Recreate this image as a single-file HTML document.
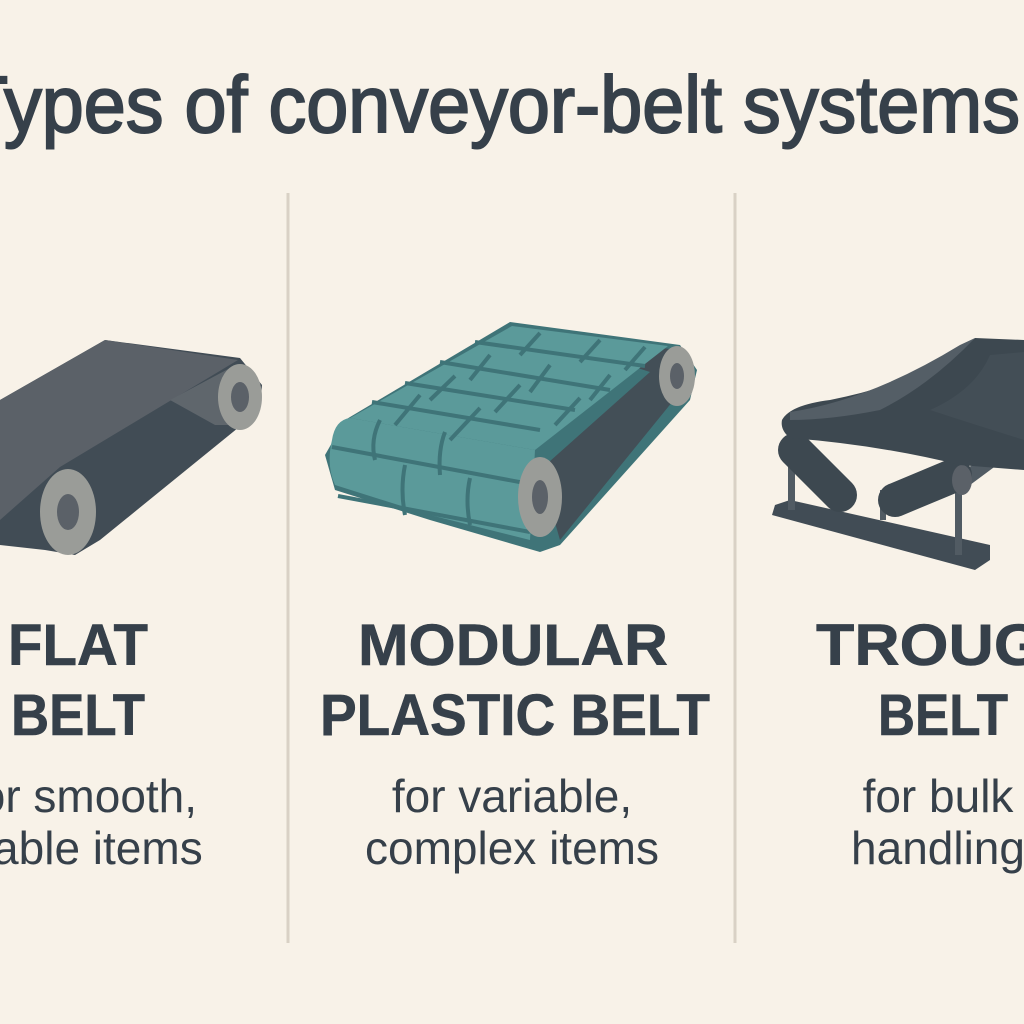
<!DOCTYPE html>
<html><head><meta charset="utf-8"><style>
html,body{margin:0;padding:0;background:#f8f2e8;}
svg{display:block}
text{font-family:"Liberation Sans",sans-serif;fill:#36404a}
</style></head><body>
<svg width="1024" height="1024" viewBox="0 0 1024 1024" xmlns="http://www.w3.org/2000/svg">
<rect width="1024" height="1024" fill="#f8f2e8"/>
<text x="-38" y="132" font-size="80" textLength="1058" lengthAdjust="spacingAndGlyphs" stroke="#36404a" stroke-width="2">Types of conveyor-belt systems</text>
<line x1="288" y1="193" x2="288" y2="943" stroke="#d9d1c5" stroke-width="3"/>
<line x1="735" y1="193" x2="735" y2="943" stroke="#d9d1c5" stroke-width="3"/>

<!-- flat belt -->
<polygon points="0,400 105,340 240,358 262,385 260,410 100,540 75,555 45,550 0,545" fill="#414c55"/>
<polygon points="0,400 105,340 238,360 60,467 0,520" fill="#5b6168"/>
<polygon points="170,400 230,368 240,425 215,425" fill="#5f666c"/>
<ellipse cx="240" cy="397" rx="22" ry="33" fill="#9a9c98"/>
<ellipse cx="240" cy="397" rx="9" ry="15" fill="#5b6168"/>
<ellipse cx="68" cy="512" rx="28" ry="43" fill="#9a9c98"/>
<ellipse cx="68" cy="512" rx="11" ry="18" fill="#5b6168"/>

<!-- modular belt -->
<polygon points="345,420 510,322 680,345 697,370 690,400 560,545 540,552 430,520 335,490 325,455" fill="#3f7478"/>
<polygon points="520,330 678,350 690,380 560,540 540,470 650,372" fill="#434f57"/>
<polygon points="350,418 512,326 668,346 535,450" fill="#5b9a9a"/>
<path d="M332,440 Q335,420 350,418 L535,450 L530,540 L430,515 L335,485 Q326,465 332,440Z" fill="#5b9a9a"/>
<g stroke="#3f7478" stroke-width="4" fill="none">
<line x1="372" y1="402" x2="540" y2="430"/>
<line x1="405" y1="383" x2="575" y2="410"/>
<line x1="440" y1="362" x2="610" y2="390"/>
<line x1="475" y1="342" x2="645" y2="366"/>
<line x1="332" y1="447" x2="530" y2="484"/>
<line x1="338" y1="496" x2="530" y2="532"/>
<line x1="420" y1="395" x2="395" y2="425"/>
<line x1="480" y1="408" x2="450" y2="440"/>
<line x1="455" y1="376" x2="430" y2="400"/>
<line x1="520" y1="385" x2="495" y2="412"/>
<line x1="580" y1="398" x2="555" y2="425"/>
<line x1="490" y1="355" x2="470" y2="380"/>
<line x1="550" y1="365" x2="530" y2="392"/>
<line x1="610" y1="375" x2="590" y2="400"/>
<line x1="540" y1="333" x2="520" y2="355"/>
<line x1="600" y1="340" x2="580" y2="362"/>
<line x1="645" y1="347" x2="625" y2="370"/>
<path d="M380,420 Q370,440 375,460"/>
<path d="M445,432 Q438,450 440,475"/>
<path d="M405,465 Q400,490 405,515"/>
<path d="M470,478 Q465,500 470,525"/>
</g>
<ellipse cx="677" cy="376" rx="18" ry="30" fill="#9a9c98"/>
<ellipse cx="677" cy="376" rx="7" ry="13" fill="#5b6168"/>
<ellipse cx="540" cy="497" rx="22" ry="40" fill="#9a9c98"/>
<ellipse cx="540" cy="497" rx="8" ry="17" fill="#5b6168"/>

<!-- trough belt -->
<polygon points="775,505 790,500 990,545 990,560 975,570 772,515" fill="#414c55"/>
<rect x="788" y="450" width="7" height="60" fill="#515b63"/>
<rect x="955" y="470" width="7" height="85" fill="#515b63"/>
<rect x="880" y="490" width="6" height="30" fill="#515b63"/>
<polygon points="965,470 1024,430 1024,445 970,485" fill="#515b63"/>
<g stroke-linecap="round" fill="none">
<line x1="795" y1="450" x2="840" y2="495" stroke="#3d4850" stroke-width="34"/>
<line x1="895" y1="500" x2="955" y2="475" stroke="#3d4850" stroke-width="34"/>
</g>
<ellipse cx="962" cy="480" rx="10" ry="15" fill="#5b6168"/>
<path d="M782,420 Q790,405 830,400 Q930,380 975,338 L1024,340 L1024,470 L960,465 Q880,445 790,438 Q780,430 782,420Z" fill="#3d4850"/>
<path d="M790,412 Q870,400 960,345 L975,338 Q930,385 880,410 Q830,420 790,420Z" fill="#545e66"/>
<path d="M990,355 L1024,352 L1024,440 Q960,420 930,410 Q975,390 990,355Z" fill="#434e56"/>

<g font-weight="bold" font-size="58" text-anchor="middle" stroke="#36404a" stroke-width="0.6">
<text x="78" y="665" textLength="140" lengthAdjust="spacingAndGlyphs">FLAT</text>
<text x="78" y="735" textLength="134" lengthAdjust="spacingAndGlyphs">BELT</text>
<text x="513" y="665" textLength="310" lengthAdjust="spacingAndGlyphs">MODULAR</text>
<text x="515" y="735" textLength="390" lengthAdjust="spacingAndGlyphs">PLASTIC BELT</text>
<text x="952" y="665" textLength="272" lengthAdjust="spacingAndGlyphs">TROUGH</text>
<text x="943" y="735" textLength="130" lengthAdjust="spacingAndGlyphs">BELT</text>
</g>
<g font-size="46" text-anchor="middle">
<text x="82" y="812">for smooth,</text>
<text x="80" y="864">stable items</text>
<text x="512" y="812">for variable,</text>
<text x="512" y="864">complex items</text>
<text x="938" y="812">for bulk</text>
<text x="938" y="864">handling</text>
</g>
</svg>
</body></html>
